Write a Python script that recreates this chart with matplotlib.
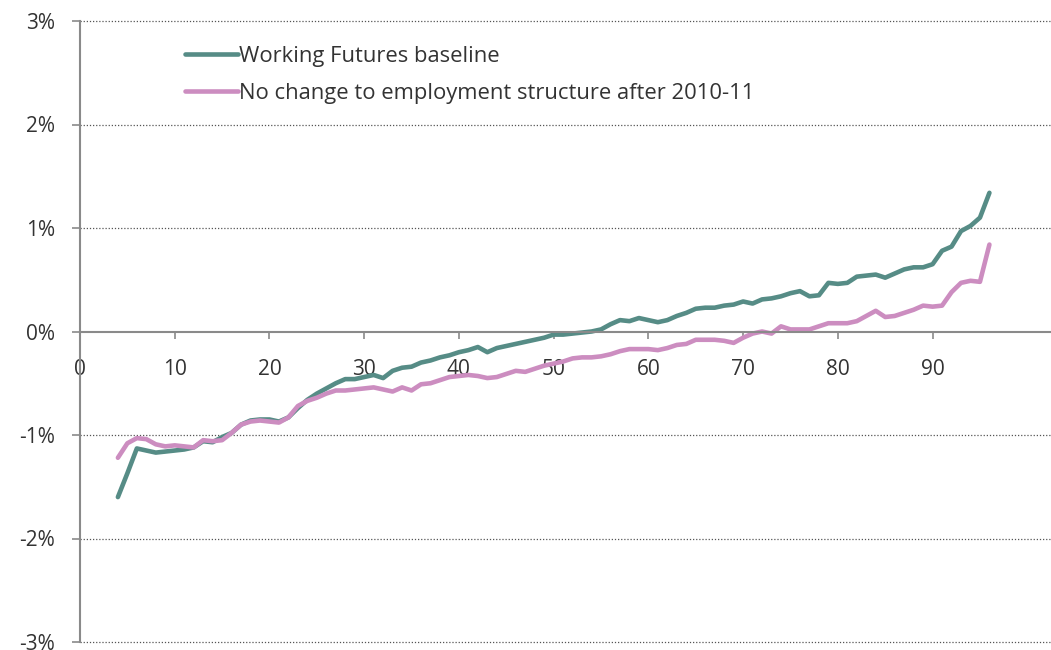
import matplotlib.pyplot as plt
from matplotlib.ticker import FuncFormatter

plt.rcParams['font.family'] = ['Open Sans', 'DejaVu Sans']

# percentile position
x = list(range(4, 97))

# Working Futures baseline (% change)
baseline = [
    -1.60, -1.37, -1.13, -1.15, -1.17, -1.16, -1.15, -1.14, -1.12, -1.06,
    -1.07, -1.02, -0.98, -0.90, -0.86, -0.85, -0.85, -0.87, -0.83, -0.74,
    -0.66, -0.60, -0.55, -0.50, -0.46, -0.46, -0.44, -0.42, -0.45, -0.38,
    -0.35, -0.34, -0.30, -0.28, -0.25, -0.23, -0.20, -0.18, -0.15, -0.20,
    -0.16, -0.14, -0.12, -0.10, -0.08, -0.06, -0.03, -0.03, -0.02, -0.01,
    0.00, 0.02, 0.07, 0.11, 0.10, 0.13, 0.11, 0.09, 0.11, 0.15,
    0.18, 0.22, 0.23, 0.23, 0.25, 0.26, 0.29, 0.27, 0.31, 0.32,
    0.34, 0.37, 0.39, 0.34, 0.35, 0.47, 0.46, 0.47, 0.53, 0.54,
    0.55, 0.52, 0.56, 0.60, 0.62, 0.62, 0.65, 0.78, 0.82, 0.97,
    1.02, 1.10, 1.34,
]

# No change to employment structure after 2010-11
no_change = [
    -1.22, -1.08, -1.03, -1.04, -1.09, -1.11, -1.10, -1.11, -1.12, -1.05,
    -1.06, -1.05, -0.98, -0.90, -0.87, -0.86, -0.87, -0.88, -0.83, -0.72,
    -0.67, -0.64, -0.60, -0.57, -0.57, -0.56, -0.55, -0.54, -0.56, -0.58,
    -0.54, -0.57, -0.51, -0.50, -0.47, -0.44, -0.43, -0.42, -0.43, -0.45,
    -0.44, -0.41, -0.38, -0.39, -0.36, -0.33, -0.31, -0.29, -0.26, -0.25,
    -0.25, -0.24, -0.22, -0.19, -0.17, -0.17, -0.17, -0.18, -0.16, -0.13,
    -0.12, -0.08, -0.08, -0.08, -0.09, -0.11, -0.06, -0.02, 0.00, -0.02,
    0.05, 0.02, 0.02, 0.02, 0.05, 0.08, 0.08, 0.08, 0.10, 0.15,
    0.20, 0.14, 0.15, 0.18, 0.21, 0.25, 0.24, 0.25, 0.38, 0.47,
    0.49, 0.48, 0.84,
]

xticks = [0, 10, 20, 30, 40, 50, 60, 70, 80, 90]
yticks = [-3, -2, -1, 0, 1, 2, 3]

fig = plt.figure(figsize=(10.51, 6.5), dpi=100)
ax = fig.add_axes([80 / 1051, 8 / 650, 971 / 1051, 621 / 650])

ax.plot(x, baseline, color='#568C86', linewidth=3.3, solid_capstyle='round',
        label='Working Futures baseline')
ax.plot(x, no_change, color='#CC8DC0', linewidth=3.3, solid_capstyle='round',
        label='No change to employment structure after 2010-11')

ax.set_xlim(0, 102.5)
ax.set_ylim(-3, 3)
ax.set_xticks(xticks)
ax.set_yticks(yticks)
ax.yaxis.set_major_formatter(FuncFormatter(lambda v, p: f'{v:.0f}%'))

# dotted gridlines, the 0% line is the x axis itself
for yv in yticks:
    if yv != 0:
        ax.axhline(yv, color='#555555', linestyle=(0, (1, 1.5)), linewidth=0.9,
                   zorder=0, clip_on=False)

for s in ['top', 'right']:
    ax.spines[s].set_visible(False)
ax.spines['bottom'].set_position(('data', 0))
ax.spines['bottom'].set_color('#8a8a8a')
ax.spines['left'].set_color('#8a8a8a')
ax.spines['bottom'].set_linewidth(1.5)
ax.spines['left'].set_linewidth(1.5)

ax.tick_params(axis='x', direction='out', length=5, width=1.2, color='#8a8a8a',
               pad=15, labelsize=15, labelcolor='#333333')
ax.tick_params(axis='y', direction='out', length=6, width=1.2, color='#8a8a8a',
               pad=12, labelsize=15, labelcolor='#333333')

ax.legend(loc='upper left', bbox_to_anchor=(0.088, 0.992), frameon=False,
          fontsize=15.8, handlelength=2.4, handletextpad=0.05, labelspacing=0.75,
          labelcolor='#333333')

fig.savefig('out.png', dpi=100)
